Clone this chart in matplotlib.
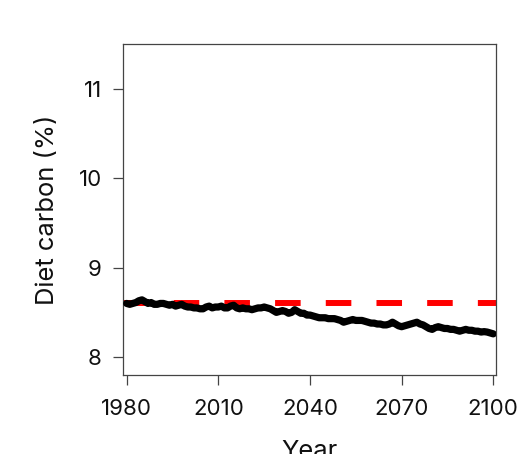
import numpy as np
import matplotlib.pyplot as plt

plt.rcParams['font.family'] = ['Inter', 'DejaVu Sans']
plt.rcParams['lines.scale_dashes'] = False

# annual diet carbon (%)
years = np.arange(1980, 2101)
carbon = [
    8.60, 8.59, 8.60, 8.61, 8.63, 8.64, 8.62, 8.60, 8.61, 8.59,
    8.59, 8.60, 8.60, 8.59, 8.58, 8.59, 8.57, 8.58, 8.59, 8.57,
    8.56, 8.56, 8.55, 8.55, 8.54, 8.54, 8.56, 8.57, 8.55, 8.56,
    8.56, 8.57, 8.55, 8.55, 8.57, 8.58, 8.55, 8.54, 8.55, 8.54,
    8.54, 8.53, 8.54, 8.55, 8.55, 8.56, 8.55, 8.54, 8.52, 8.50,
    8.51, 8.52, 8.51, 8.49, 8.50, 8.53, 8.51, 8.49, 8.49, 8.47,
    8.47, 8.46, 8.45, 8.44, 8.44, 8.44, 8.43, 8.43, 8.43, 8.42,
    8.41, 8.39, 8.40, 8.41, 8.42, 8.41, 8.41, 8.41, 8.40, 8.39,
    8.38, 8.38, 8.37, 8.37, 8.36, 8.36, 8.37, 8.39, 8.37, 8.35,
    8.34, 8.35, 8.36, 8.37, 8.38, 8.39, 8.37, 8.36, 8.34, 8.32,
    8.31, 8.33, 8.34, 8.33, 8.32, 8.32, 8.31, 8.31, 8.30, 8.29,
    8.30, 8.31, 8.30, 8.30, 8.29, 8.29, 8.28, 8.285, 8.28, 8.27,
    8.26,
]
baseline = 8.6

xticks = [1980, 2010, 2040, 2070, 2100]
yticks = [8, 9, 10, 11]

fig = plt.figure(figsize=(5.32, 4.54), dpi=100)
ax = fig.add_axes([0.2318, 0.174, 0.70, 0.7291])

ax.axhline(baseline, color='#ff0000', lw=4.3, linestyle=(0, (18.4, 18.1)),
           zorder=2)
ax.plot(years, carbon, color='black', lw=5.2, solid_capstyle='round',
        solid_joinstyle='round', zorder=3)

ax.set_xlim(1978.9, 2100.8)
ax.set_ylim(7.8, 11.5)
ax.set_xticks(xticks)
ax.set_yticks(yticks)

for s in ax.spines.values():
    s.set_color('#444444')
    s.set_linewidth(0.9)
ax.tick_params(direction='out', length=7.5, width=0.9, color='#444444',
               labelsize=16, labelcolor='#111111')
ax.tick_params(axis='x', pad=10)
ax.tick_params(axis='y', pad=8)

ax.set_xlabel('Year', fontsize=18.4, labelpad=15, color='#111111')
ax.set_ylabel('Diet carbon (%)', fontsize=18.4, labelpad=14, color='#111111')

fig.savefig('out.png', dpi=100)
